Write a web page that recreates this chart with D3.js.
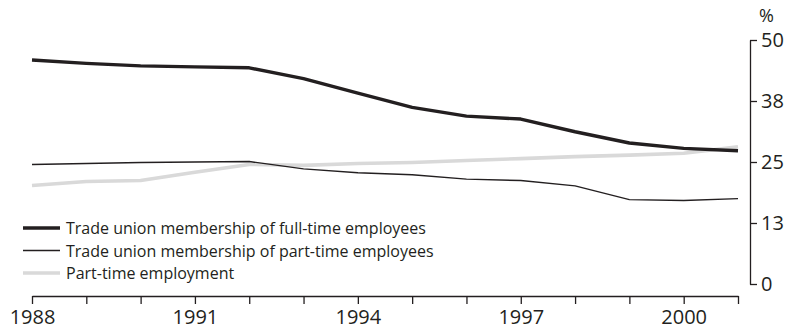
<!DOCTYPE html>
<html>
<head>
<meta charset="utf-8">
<script src="https://cdn.jsdelivr.net/npm/d3@7"></script>
<style>
  html, body { margin: 0; padding: 0; background: #fff; }
  svg { display: block; }
  text { font-family: "Open Sans", "Liberation Sans", sans-serif; fill: #231f20; }
</style>
</head>
<body>
<svg id="chart" width="791" height="330"></svg>
<script>
const years = [1988, 1989, 1990, 1991, 1992, 1993, 1994, 1995, 1996, 1997, 1998, 1999, 2000, 2001];
const fullTimeUnion = [45.9, 45.2, 44.7, 44.5, 44.3, 42.1, 39.1, 36.2, 34.4, 33.8, 31.2, 28.9, 27.8, 27.3];
const partTimeUnion = [24.5, 24.7, 24.9, 25.0, 25.1, 23.6, 22.8, 22.4, 21.5, 21.2, 20.1, 17.3, 17.1, 17.5];
const partTimeEmployment = [20.2, 21.0, 21.2, 22.9, 24.5, 24.3, 24.7, 24.9, 25.3, 25.7, 26.1, 26.4, 26.8, 28.1];
const xTickLabels = ["1988", "", "", "1991", "", "", "1994", "", "", "1997", "", "", "2000", ""];
const yTickValues = [0, 12.5, 25, 37.5, 50];
const yTickLabels = ["0", "13", "25", "38", "50"];
const seriesNames = [
  "Trade union membership of full-time employees",
  "Trade union membership of part-time employees",
  "Part-time employment"
];

const ink = "#231f20";
const svg = d3.select("#chart");
const x = d3.scaleLinear().domain([1988, 2001]).range([32, 738]);
const y = d3.scaleLinear().domain([0, 50]).range([284, 40]);

const series = [
  { name: seriesNames[2], values: partTimeEmployment, color: "#d9d9d9", width: 3.6 },
  { name: seriesNames[1], values: partTimeUnion, color: ink, width: 1.4 },
  { name: seriesNames[0], values: fullTimeUnion, color: ink, width: 3.4 }
];

const line = d3.line().x((d, i) => x(years[i])).y(d => y(d));

svg.append("g").selectAll("path").data(series).join("path")
  .attr("d", s => line(s.values))
  .attr("fill", "none")
  .attr("stroke", s => s.color)
  .attr("stroke-width", s => s.width)
  .attr("stroke-linejoin", "round");

// x axis
const xAxis = d3.axisBottom(x)
  .tickValues(years)
  .tickFormat((d, i) => xTickLabels[i])
  .tickSizeInner(8).tickSizeOuter(0).tickPadding(6);
const gx = svg.append("g").attr("transform", "translate(0,296)").call(xAxis);
gx.select(".domain").attr("stroke", ink).attr("stroke-width", 1.3);
gx.selectAll(".tick line").attr("stroke", ink).attr("stroke-width", 1.3);
gx.selectAll(".tick text").attr("font-size", 20).attr("font-family", "'Open Sans', sans-serif").attr("fill", ink);

// y axis (right)
const yAxis = d3.axisRight(y)
  .tickValues(yTickValues)
  .tickFormat((d, i) => yTickLabels[i])
  .tickSizeInner(7).tickSizeOuter(0).tickPadding(4);
const gy = svg.append("g").attr("transform", "translate(750,0)").call(yAxis);
gy.select(".domain").attr("stroke", ink).attr("stroke-width", 1.3);
gy.selectAll(".tick line").attr("stroke", ink).attr("stroke-width", 1.3);
gy.selectAll(".tick text").attr("font-size", 20).attr("font-family", "'Open Sans', sans-serif").attr("fill", ink);

svg.append("text").attr("x", 759).attr("y", 22).attr("font-size", 18).text("%");

// legend
const legendOrder = [series[2], series[1], series[0]];
const lg = svg.append("g");
legendOrder.forEach((s, i) => {
  const cy = 228 + i * 22.5;
  lg.append("line").attr("x1", 23).attr("x2", 60).attr("y1", cy).attr("y2", cy)
    .attr("stroke", s.color).attr("stroke-width", s.width);
  lg.append("text").attr("x", 66).attr("y", cy + 6).attr("font-size", 16).text(s.name);
});
</script>
</body>
</html>
